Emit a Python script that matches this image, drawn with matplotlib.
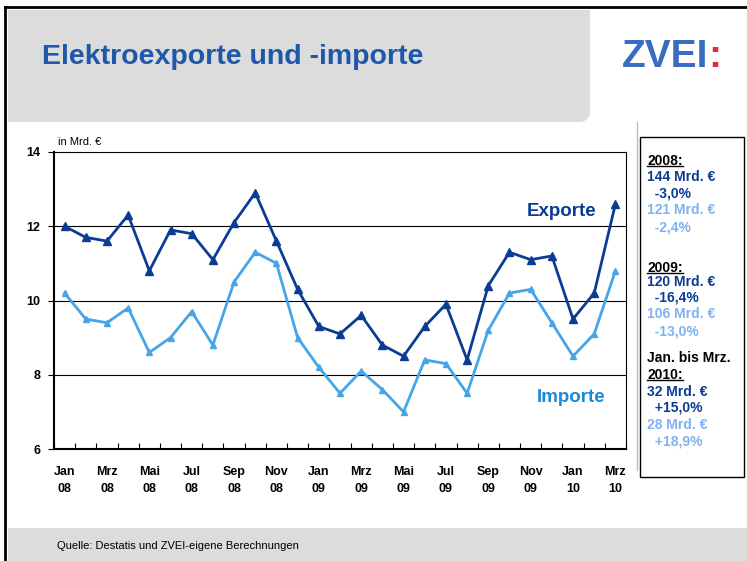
import matplotlib.pyplot as plt
from matplotlib.patches import Rectangle, PathPatch
from matplotlib.path import Path
from matplotlib.lines import Line2D
import numpy as np

# Monthly values Jan 08 - Mrz 10, in Mrd. EUR
months = ['Jan', 'Feb', 'Mrz', 'Apr', 'Mai', 'Jun', 'Jul', 'Aug', 'Sep', 'Okt', 'Nov', 'Dez'] * 2 + ['Jan', 'Feb', 'Mrz']
years = ['08'] * 12 + ['09'] * 12 + ['10'] * 3
exporte = [12.0, 11.7, 11.6, 12.3, 10.8, 11.9, 11.8, 11.1, 12.1, 12.9, 11.6, 10.3,
           9.3, 9.1, 9.6, 8.8, 8.5, 9.3, 9.9, 8.4, 10.4, 11.3, 11.1, 11.2,
           9.5, 10.2, 12.6]
importe = [10.2, 9.5, 9.4, 9.8, 8.6, 9.0, 9.7, 8.8, 10.5, 11.3, 11.0, 9.0,
           8.2, 7.5, 8.1, 7.6, 7.0, 8.4, 8.3, 7.5, 9.2, 10.2, 10.3, 9.4,
           8.5, 9.1, 10.8]
y_ticks = [6, 8, 10, 12, 14]

# side panel lines: text, kind
panel_lines = [
    ('2008:', 'head'), ('144 Mrd. €', 'exp'), ('  -3,0%', 'exp'), ('121 Mrd. €', 'imp'), ('  -2,4%', 'imp'),
    ('2009:', 'head'), ('120 Mrd. €', 'exp'), ('  -16,4%', 'exp'), ('106 Mrd. €', 'imp'), ('  -13,0%', 'imp'),
    ('Jan. bis Mrz.', 'plain'), ('2010:', 'head'), ('32 Mrd. €', 'exp'), ('  +15,0%', 'exp'),
    ('28 Mrd. €', 'imp'), ('  +18,9%', 'imp'),
]
panel_y = [161, 177, 193, 210, 227, 268, 282, 298, 314, 331, 358, 375, 392, 408, 425, 442]

dark_blue = '#0B3C94'
light_blue = '#45A5E8'
panel_light = '#7FB2F2'
title_blue = '#1F58AA'
grey = '#DCDCDC'

W, H = 747, 561
plt.rcParams['font.family'] = ['Liberation Sans', 'DejaVu Sans']
fig = plt.figure(figsize=(W / 100, H / 100), dpi=100)


def fx(x):
    return x / W


def fy(y):
    return 1 - y / H


# header box with rounded bottom-right corner
r = 10
x0, x1, y0, y1 = 8, 590, 10, 122
pts = [(x0, y0), (x1, y0), (x1, y1 - r)]
for a in np.linspace(0, np.pi / 2, 10):
    pts.append((x1 - r + r * np.cos(a), y1 - r + r * np.sin(a)))
pts += [(x0, y1), (x0, y0)]
pts = [(fx(px), fy(py)) for px, py in pts]
fig.patches.append(PathPatch(Path(pts), facecolor=grey, edgecolor='none', transform=fig.transFigure))

# footer
fig.patches.append(Rectangle((fx(8), 0), 1, fy(528), facecolor=grey, edgecolor='none', transform=fig.transFigure))

# borders
fig.lines.append(Line2D([fx(5), fx(5)], [0, fy(7)], color='black', lw=2, transform=fig.transFigure))
fig.lines.append(Line2D([fx(5), 1], [fy(7), fy(7)], color='black', lw=2, transform=fig.transFigure))
fig.lines.append(Line2D([fx(637), fx(637)], [fy(470), fy(122)], color='#BBBBBB', lw=1, transform=fig.transFigure))

fig.text(fx(42), fy(57), 'Elektroexporte und -importe', fontsize=20.5, fontweight='bold',
         color=title_blue, va='center')
zv = fig.text(fx(622), fy(57), 'ZVEI', fontsize=28, fontweight='bold', color='#3A6CC0', va='center')

fig.text(fx(57), fy(546), 'Quelle: Destatis und ZVEI-eigene Berechnungen', fontsize=8, va='center')

# chart
ax = fig.add_axes([fx(54), fy(449), fx(626) - fx(54), fy(152) - fy(449)])
x = np.arange(len(exporte))
ax.plot(x, exporte, color=dark_blue, lw=2, marker='^', ms=6, zorder=3)
ax.plot(x, importe, color=light_blue, lw=2, marker='^', ms=4.5, zorder=3)
ax.set_xlim(-0.5, len(exporte) - 0.5)
ax.set_ylim(6, 14)
ax.set_yticks(y_ticks)
ax.set_yticklabels([str(v) for v in y_ticks], fontsize=9, fontweight='bold')
for v in y_ticks[1:-1]:
    ax.axhline(v, color='black', lw=0.8, zorder=1)

ax.set_xticks(np.arange(-0.5, len(exporte), 1))
ax.set_xticklabels([])
ax.tick_params(axis='x', direction='in', length=4, width=0.8)
ax.tick_params(axis='y', direction='out', length=4, width=0.8, pad=6)
for i in range(0, len(months), 2):
    ax.text(i, -0.058, months[i] + '\n' + years[i], transform=ax.get_xaxis_transform(),
            ha='center', va='top', fontsize=9, fontweight='bold', linespacing=1.55)
for s in ['left', 'bottom']:
    ax.spines[s].set_linewidth(1.5)
for s in ['top', 'right']:
    ax.spines[s].set_linewidth(0.8)

ax.text(21.8, 12.4, 'Exporte', color=dark_blue, fontsize=13.5, fontweight='bold', va='center')
ax.text(22.3, 7.4, 'Importe', color='#1C8AD6', fontsize=13.5, fontweight='bold', va='center')
fig.text(fx(58), fy(142), 'in Mrd. €', fontsize=8, va='center')

# side panel
fig.patches.append(Rectangle((fx(640), fy(477)), fx(744) - fx(640), fy(137) - fy(477), facecolor='white',
                             edgecolor='black', lw=1, transform=fig.transFigure))
colors = {'head': 'black', 'plain': 'black', 'exp': dark_blue, 'imp': panel_light}
heads = []
for (txt, kind), py in zip(panel_lines, panel_y):
    t = fig.text(fx(647), fy(py), txt, fontsize=10, fontweight='bold', color=colors[kind], va='center')
    if kind == 'head':
        heads.append((t, py))

fig.canvas.draw()
for t, py in heads:
    bb = t.get_window_extent()
    fig.lines.append(Line2D([bb.x0 / W, bb.x1 / W], [fy(py + 5), fy(py + 5)], color='black', lw=1,
                            transform=fig.transFigure))
# red colon of the logo right after the letters
bb = zv.get_window_extent()
fig.text(bb.x1 / W, fy(57), ':', fontsize=28, fontweight='bold', color='#E8283C', va='center')

fig.savefig('out.png', dpi=100)
